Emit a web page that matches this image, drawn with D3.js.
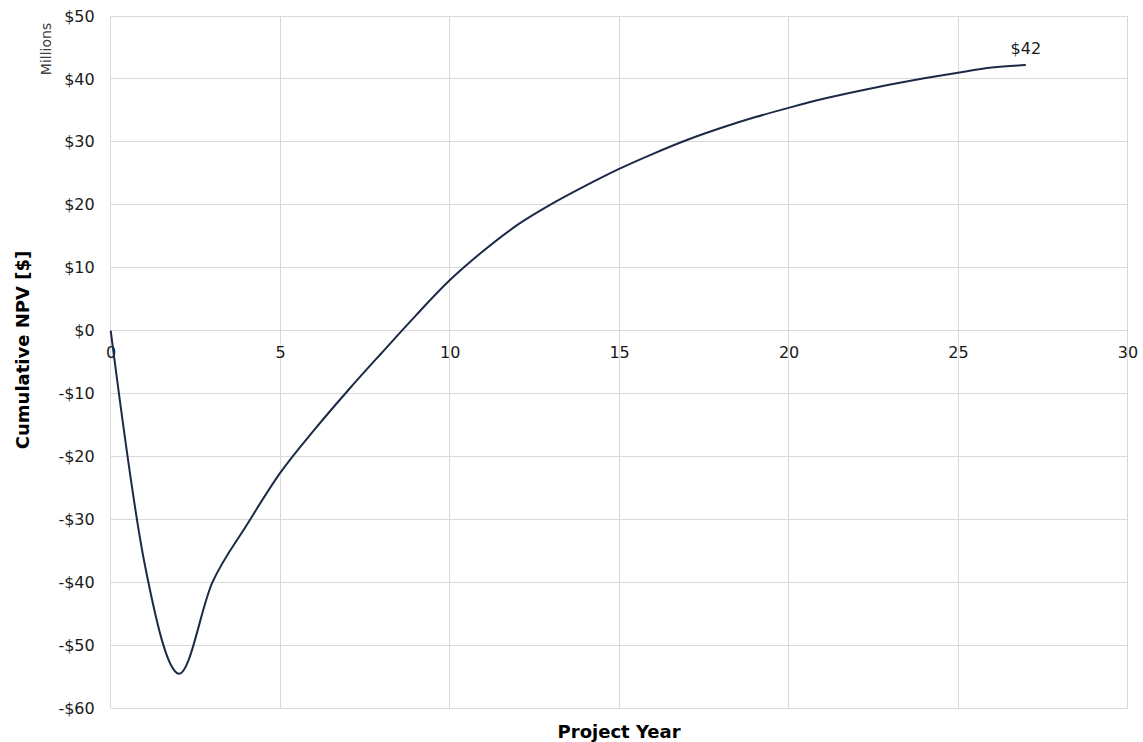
<!DOCTYPE html>
<html>
<head>
<meta charset="utf-8">
<script src="https://cdn.jsdelivr.net/npm/d3@7/dist/d3.min.js"></script>
<style>
  html, body { margin: 0; padding: 0; background: #fff; }
  svg { display: block; font-family: "DejaVu Sans", Verdana, sans-serif; }
</style>
</head>
<body>
<svg id="chart" width="1143" height="742"></svg>
<script>
// Project years and cumulative NPV (millions of dollars)
const years = [0,1,2,3,4,5,6,7,8,9,10,11,12,13,14,15,16,17,18,19,20,21,22,23,24,25,26,27];
const cumulativeNPV = [0,-37,-54.5,-40,-31,-22.6,-15.8,-9.5,-3.5,2.4,8.0,12.7,16.8,20.1,23.0,25.7,28.1,30.3,32.2,33.9,35.4,36.8,38.0,39.1,40.1,41.0,41.8,42.2];
const xTicks = [0,5,10,15,20,25,30];
const yTicks = [50,40,30,20,10,0,-10,-20,-30,-40,-50,-60];

const svg = d3.select("#chart");
const W = 1143, H = 742;
const margin = { left: 110.7, right: W - 1127.5, top: 16, bottom: H - 708.3 };

const x = d3.scaleLinear().domain([0, 30]).range([margin.left, W - margin.right]);
const y = d3.scaleLinear().domain([-60, 50]).range([H - margin.bottom, margin.top]);

const money = v => (v < 0 ? "-$" : "$") + Math.abs(v);
const grid = "#d9d9d9";
const labelColor = "#1a1a1a";
const tickFont = 16;

// horizontal gridlines
svg.append("g")
  .selectAll("line").data(yTicks).join("line")
  .attr("x1", x(0)).attr("x2", x(30))
  .attr("y1", d => y(d)).attr("y2", d => y(d))
  .attr("stroke", grid).attr("stroke-width", 1).attr("shape-rendering", "crispEdges");

// vertical gridlines
svg.append("g")
  .selectAll("line").data(xTicks).join("line")
  .attr("x1", d => x(d)).attr("x2", d => x(d))
  .attr("y1", y(50)).attr("y2", y(-60))
  .attr("stroke", grid).attr("stroke-width", 1).attr("shape-rendering", "crispEdges");

// y-axis tick labels
const yAxis = d3.axisLeft(y).tickValues(yTicks).tickFormat(money).tickSize(0).tickPadding(0);
const gy = svg.append("g").attr("transform", `translate(${x(0) - 16},0)`).call(yAxis);
gy.select(".domain").remove();
gy.selectAll("text")
  .attr("font-family", "'DejaVu Sans', Verdana, sans-serif")
  .attr("font-size", tickFont).attr("fill", labelColor);

// x-axis tick labels sit along the zero line
const xAxis = d3.axisBottom(x).tickValues(xTicks).tickFormat(d3.format("d")).tickSize(0).tickPadding(0);
const gx = svg.append("g").attr("transform", `translate(0,${y(0) + 15.5})`).call(xAxis);
gx.select(".domain").remove();
gx.selectAll("text")
  .attr("font-family", "'DejaVu Sans', Verdana, sans-serif")
  .attr("font-size", tickFont).attr("fill", labelColor);

// cumulative NPV curve
const pts = years.map((yr, i) => [yr, cumulativeNPV[i]]);
const line = d3.line()
  .x(d => x(d[0])).y(d => y(d[1]))
  .curve(d3.curveCardinal.tension(0));
svg.append("path")
  .datum(pts)
  .attr("d", line)
  .attr("fill", "none")
  .attr("stroke", "#1c2a47")
  .attr("stroke-width", 2);

// end-of-project value label
const last = pts[pts.length - 1];
svg.append("text")
  .attr("x", x(last[0]))
  .attr("y", y(last[1]) - 11)
  .attr("text-anchor", "middle")
  .attr("font-size", tickFont).attr("fill", labelColor)
  .text("$" + d3.format(".0f")(last[1]));

// units label
svg.append("text")
  .attr("transform", `translate(51,49) rotate(-90)`)
  .attr("text-anchor", "middle")
  .attr("font-size", 14).attr("fill", "#404040")
  .text("Millions");

// axis titles
svg.append("text")
  .attr("transform", `translate(29,350) rotate(-90)`)
  .attr("text-anchor", "middle")
  .attr("font-size", 18).attr("font-weight", "bold").attr("fill", "#000")
  .text("Cumulative NPV [$]");

svg.append("text")
  .attr("x", (x(0) + x(30)) / 2)
  .attr("y", 738)
  .attr("text-anchor", "middle")
  .attr("font-size", 18).attr("font-weight", "bold").attr("fill", "#000")
  .text("Project Year");
</script>
</body>
</html>
